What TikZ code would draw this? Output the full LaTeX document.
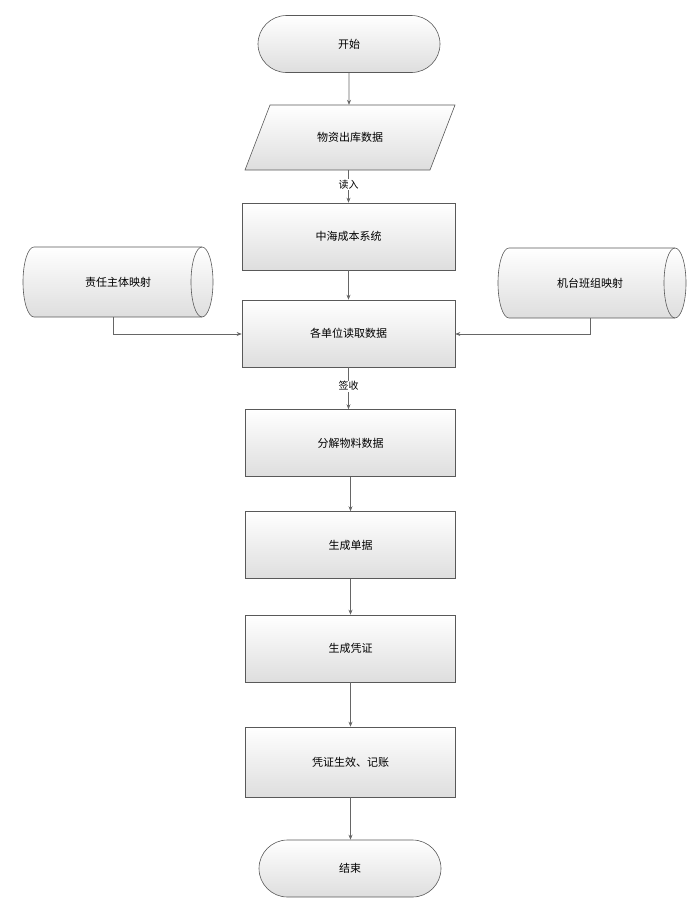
\documentclass[tikz,border=0pt]{standalone}
\usepackage{fontspec}
\setmainfont{Noto Sans CJK SC}
\usetikzlibrary{shapes.geometric,shapes.misc,arrows.meta}
\begin{document}
\begin{tikzpicture}[x=1pt,y=-1pt,
  txt/.style={font=\fontsize{11}{13}\selectfont,inner sep=0pt},
  fillst/.style={draw=black!65,line width=0.6pt,top color=white,bottom color=black!13},
  base/.style={fillst,txt},
  box/.style={base,rectangle,minimum width=210pt,minimum height=67pt},
  term/.style={base,rounded rectangle,minimum width=182pt,minimum height=57pt},
  ghost/.style={txt,minimum height=#1},
  arr/.style={draw=black!60,line width=0.6pt,-{Stealth[length=5pt,width=4pt]}},
  lbl/.style={fill=white,inner sep=1pt,font=\fontsize{10}{12}\selectfont}]
\useasboundingbox (0,0) rectangle (700,911);
% shapes drawn directly
\path[fillst] (270,105) -- (455,105) -- (430,170) -- (245,170) -- cycle;
\path[fillst] (34,247) -- (202,247) arc[start angle=90,end angle=-90,x radius=11pt,y radius=35pt] -- (34,317) arc[start angle=270,end angle=90,x radius=11pt,y radius=35pt] -- cycle;
\draw[black!65,line width=0.6pt] (202,247) arc[start angle=90,end angle=270,x radius=11pt,y radius=35pt];
\path[fillst] (509,248) -- (675,248) arc[start angle=90,end angle=-90,x radius=11pt,y radius=35pt] -- (509,318) arc[start angle=270,end angle=90,x radius=11pt,y radius=35pt] -- cycle;
\draw[black!65,line width=0.6pt] (675,248) arc[start angle=90,end angle=270,x radius=11pt,y radius=35pt];
% nodes
\node[term] (start) at (349,44) {开始};
\node[ghost=65pt] (io) at (350,137.5) {物资出库数据};
\node[box,minimum width=213pt] (zh) at (348.5,236.5) {中海成本系统};
\node[box,minimum width=213pt] (gd) at (348.5,333.5) {各单位读取数据};
\node[ghost=70pt] (zr) at (118,282) {责任主体映射};
\node[ghost=70pt] (jt) at (590,283) {机台班组映射};
\node[box] (fj) at (350.5,443) {分解物料数据};
\node[box] (dj) at (350.5,545) {生成单据};
\node[box] (pz) at (350.5,648.5) {生成凭证};
\node[box,minimum height=70pt] (jz) at (350.5,762) {凭证生效、记账};
\node[term] (end) at (350,868.5) {结束};
\coordinate (zl) at (113,0);
\coordinate (jl) at (590,0);
\coordinate (hy) at (0,334);
\draw[arr] (start) -- (start|-io.north);
\draw[arr] (io.south-|zh) -- node[lbl,pos=0.45]{读入} (zh);
\draw[arr] (zh) -- (gd);
\draw[arr] (gd) -- node[lbl,pos=0.45]{签收} (gd|-fj.north);
\draw[arr] (fj.south-|dj) -- (dj);
\draw[arr] (dj) -- (pz);
\draw[arr] (pz) -- (jz);
\draw[arr] (jz) -- (jz|-end.north);
\draw[arr] (zr.south-|zl) |- (gd.west|-hy);
\draw[arr] (jt.south-|jl) |- (gd.east|-hy);
\end{tikzpicture}
\end{document}
